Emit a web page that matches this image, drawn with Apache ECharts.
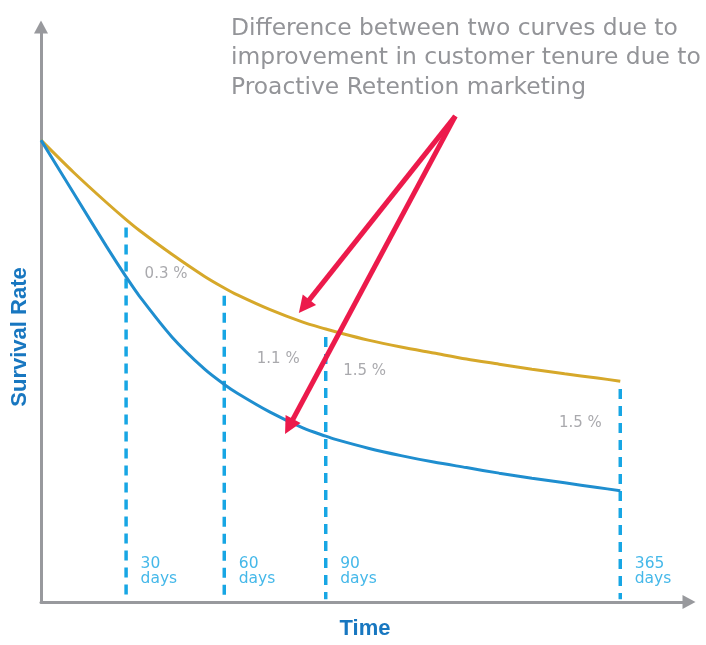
<!DOCTYPE html>
<html>
<head>
<meta charset="utf-8">
<script src="https://cdn.jsdelivr.net/npm/echarts@6/dist/echarts.min.js"></script>
<style>
  html, body { margin: 0; padding: 0; background: #ffffff; }
  #chart { width: 706px; height: 645px; }
</style>
</head>
<body>
<div id="chart"></div>
<script>
// Position along the (unscaled) time axis; 0 = customer acquisition
const timePos = [0, 5, 10, 13, 15, 20, 25, 28, 30, 35, 40, 43.5, 45, 50, 55, 60, 65, 70, 75, 80, 85, 88.5];
// Survival rate (%) with Proactive Retention marketing
const retainedRate = [100, 93.0, 86.5, 82.8, 80.5, 75.3, 70.5, 68.0, 66.5, 63.3, 60.6, 59.1, 58.5, 56.7, 55.2, 53.9, 52.6, 51.5, 50.4, 49.4, 48.5, 47.8];
// Survival rate (%) without it
const baselineRate = [100, 88.5, 77.0, 70.4, 66.3, 57.4, 50.4, 47.1, 45.2, 41.1, 37.7, 35.9, 35.2, 33.3, 31.7, 30.3, 29.1, 27.9, 26.8, 25.8, 24.8, 24.1];

// Checkpoints marked along the time axis
const checkpointPos = [13, 28, 43.5, 88.5];
const checkpointDays = ['30', '60', '90', '365'];
// Gap between the two curves at each checkpoint
const gapLabels = ['0.3 %', '1.1 %', '1.5 %', '1.5 %'];

// Call-out text and the two arrows pointing at the curves
const noteLines = [
  'Difference between two curves due to',
  'improvement in customer tenure due to',
  'Proactive Retention marketing'
];
const arrowFrom = [63.3, 105.2];
const arrowTargets = [[40.2, 64.0], [37.9, 38.0]];

const AXIS_GRAY = '#98999d';
const GOLD = '#d6a82a';
const BLUE = '#1f8ecf';
const DASH_BLUE = '#17a6e4';
const RED = '#ec1a4b';
const NOTE_GRAY = '#939498';

const chart = echarts.init(document.getElementById('chart'), null, { renderer: 'canvas' });

const pairs = (ys) => timePos.map((x, i) => [x, ys[i]]);
const rateAt = (ys, x) => ys[timePos.indexOf(x)];

// dashed checkpoint drops: from just under the upper curve to the time axis
const dashGap = 1.7;
const dashBottom = 0.6;
const dashSeries = checkpointPos.map((x, i) => ({
  type: 'line',
  name: checkpointDays[i] + ' days',
  data: [[x, rateAt(retainedRate, x) - dashGap], [x, dashBottom]],
  symbol: 'none',
  silent: true,
  lineStyle: { color: DASH_BLUE, width: 3.5, type: [10, 7] },
  z: 2
}));

// day labels at the foot of each checkpoint
const dayLabelSeries = {
  type: 'scatter',
  data: checkpointPos.map((x, i) => ({ value: [x, dashBottom], name: checkpointDays[i] })),
  symbolSize: 1,
  itemStyle: { color: 'rgba(0,0,0,0)' },
  silent: true,
  label: {
    show: true,
    position: 'right',
    distance: 14,
    offset: [0, -28],
    formatter: (p) => p.name + '\ndays',
    color: DASH_BLUE,
    fontFamily: 'DejaVu Sans',
    fontSize: 15.5,
    lineHeight: 15,
    align: 'left'
  },
  z: 3
};

// gap labels, placed around the midpoint between the curves
const gapPlacement = [
  { position: 'right', offset: [18, 26] },
  { position: 'right', offset: [32, 23] },
  { position: 'right', offset: [17, -12] },
  { position: 'left', offset: [-18, -13] }
];
const gapLabelSeries = {
  type: 'scatter',
  data: checkpointPos.map((x, i) => ({
    value: [x, (rateAt(retainedRate, x) + rateAt(baselineRate, x)) / 2],
    name: gapLabels[i],
    label: Object.assign({}, gapPlacement[i])
  })),
  symbolSize: 1,
  itemStyle: { color: 'rgba(0,0,0,0)' },
  silent: true,
  label: {
    show: true,
    distance: 0,
    formatter: (p) => p.name,
    color: NOTE_GRAY,
    fontFamily: 'DejaVu Sans',
    fontSize: 15
  },
  z: 3
};

const option = {
  animation: false,
  backgroundColor: '#ffffff',
  grid: { left: 41, right: 17, top: 27, bottom: 36, containLabel: false },
  xAxis: {
    type: 'value',
    min: 0,
    max: 99,
    name: 'Time',
    nameLocation: 'middle',
    nameGap: 16,
    nameTextStyle: { color: '#1877c0', fontFamily: 'Liberation Sans', fontWeight: 'bold', fontSize: 22, verticalAlign: 'top' },
    axisLine: {
      show: true,
      onZero: false,
      symbol: ['none', 'triangle'],
      symbolSize: [14, 13],
      lineStyle: { color: AXIS_GRAY, width: 3 }
    },
    axisTick: { show: false },
    axisLabel: { show: false },
    splitLine: { show: false }
  },
  yAxis: {
    type: 'value',
    min: 0,
    max: 124.5,
    axisLine: {
      show: true,
      onZero: false,
      symbol: ['none', 'triangle'],
      symbolSize: [14, 13],
      lineStyle: { color: AXIS_GRAY, width: 3 }
    },
    axisTick: { show: false },
    axisLabel: { show: false },
    splitLine: { show: false }
  },
  graphic: [
    {
      type: 'text',
      x: 20,
      y: 337,
      rotation: Math.PI / 2,
      style: {
        text: 'Survival Rate',
        fill: '#1877c0',
        font: 'bold 22px "Liberation Sans"',
        align: 'center',
        verticalAlign: 'middle'
      },
      z: 10
    },
    {
      type: 'text',
      x: 231,
      y: 14,
      style: {
        text: noteLines.join('\n'),
        fill: NOTE_GRAY,
        font: '23.4px "DejaVu Sans"',
        lineHeight: 29.5,
        align: 'left',
        verticalAlign: 'top'
      },
      z: 10
    }
  ],
  series: [
    {
      type: 'line',
      name: 'With Proactive Retention',
      data: pairs(retainedRate),
      smooth: 0.3,
      symbol: 'none',
      lineStyle: { color: GOLD, width: 3 },
      z: 4
    },
    {
      type: 'line',
      name: 'Without Proactive Retention',
      data: pairs(baselineRate),
      smooth: 0.3,
      symbol: 'none',
      lineStyle: { color: BLUE, width: 3 },
      z: 4
    },
    ...dashSeries,
    dayLabelSeries,
    gapLabelSeries,
    {
      type: 'lines',
      coordinateSystem: 'cartesian2d',
      data: arrowTargets.map((t) => ({ coords: [arrowFrom, t] })),
      symbol: ['none', 'triangle'],
      symbolSize: 17,
      silent: true,
      lineStyle: { color: RED, width: 5, opacity: 1, curveness: 0 },
      itemStyle: { color: RED },
      z: 6
    }
  ]
};

chart.setOption(option);
</script>
</body>
</html>
